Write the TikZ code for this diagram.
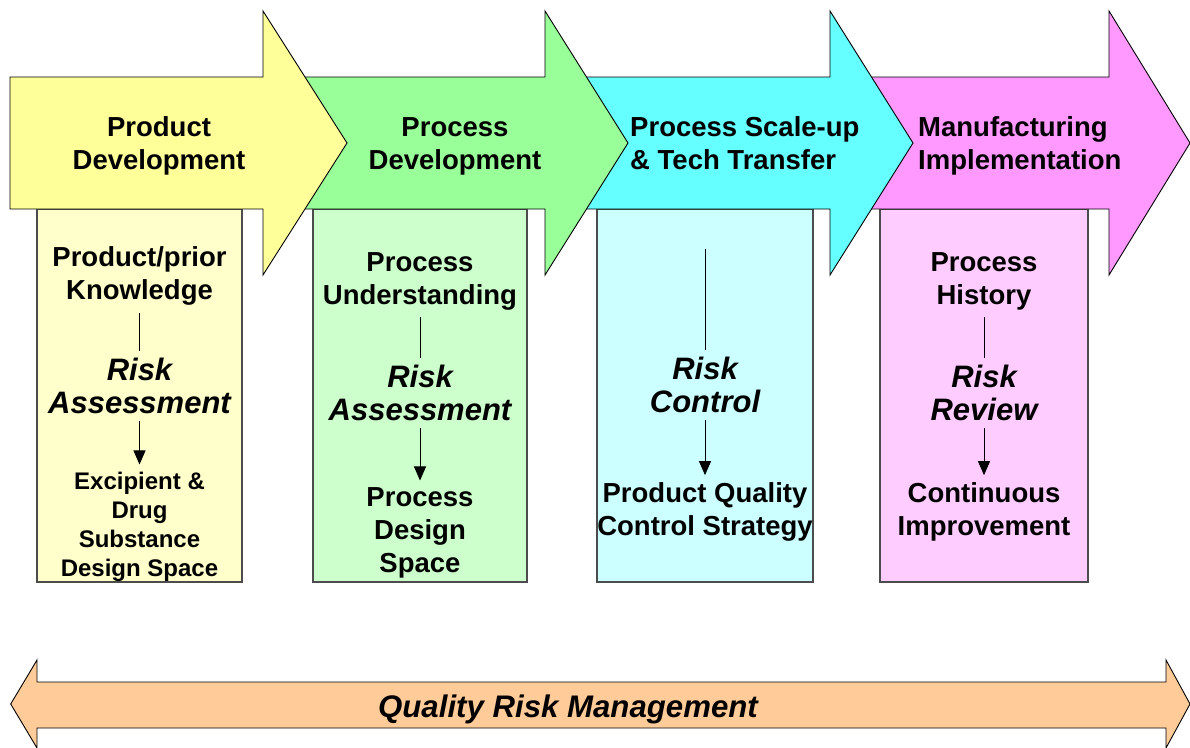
\documentclass[tikz,border=0pt]{standalone}
\usepackage{fontspec}
\setmainfont{Liberation Sans}
\usetikzlibrary{arrows.meta}
\definecolor{cProdA}{RGB}{255,255,153}
\definecolor{cProdB}{RGB}{255,255,204}
\definecolor{cProcA}{RGB}{153,255,153}
\definecolor{cProcB}{RGB}{204,255,204}
\definecolor{cScaleA}{RGB}{102,255,255}
\definecolor{cScaleB}{RGB}{204,255,255}
\definecolor{cMfgA}{RGB}{255,153,255}
\definecolor{cMfgB}{RGB}{255,204,255}
\definecolor{cQRM}{RGB}{255,204,153}

\begin{document}
\begin{tikzpicture}[x=1pt,y=-1pt,
  phase/.style={draw=black,line width=0.9pt,line join=miter},
  stage/.style={draw=black!70,line width=1.2pt},
  head/.style={font=\fontsize{27.5}{33}\selectfont\bfseries,align=center,inner sep=0pt},
  txt/.style={font=\fontsize{27.5}{33}\selectfont\bfseries,align=center,inner sep=7pt},
  small/.style={txt,font=\fontsize{24}{29}\selectfont\bfseries},
  risk/.style={font=\fontsize{31}{33}\selectfont\bfseries\itshape,align=center,inner sep=7pt},
  link/.style={line width=0.9pt},
  flow/.style={link,-{Triangle[length=14pt,width=12pt]}}]
\fill[white] (0,0) rectangle (1190,747);
\useasboundingbox (0,0) rectangle (1190,747);
% boxes under the phases
\draw[stage,fill=cProdB] (37,209) rectangle (242,582);
\draw[stage,fill=cProcB] (313,209) rectangle (527,582);
\draw[stage,fill=cScaleB] (597,209) rectangle (813,582);
\draw[stage,fill=cMfgB] (880,209) rectangle (1088,582);
% phase arrows, last one first so each head lies on the next shaft
\draw[phase,fill=cMfgA] (835,77) -- (1109,77) -- (1109,11) -- (1190,143) -- (1109,275) -- (1109,209) -- (835,209) -- cycle;
\draw[phase,fill=cScaleA] (550,77) -- (830,77) -- (830,11) -- (913,143) -- (830,275) -- (830,209) -- (550,209) -- cycle;
\draw[phase,fill=cProcA] (270,77) -- (545,77) -- (545,11) -- (628,143) -- (545,275) -- (545,209) -- (270,209) -- cycle;
\draw[phase,fill=cProdA] (10,77) -- (263,77) -- (263,11) -- (347,143) -- (263,275) -- (263,209) -- (10,209) -- cycle;
\node[head] (h1) at (159,146.3) {Product\\Development};
\node[head] (h2) at (455,146.3) {Process\\Development};
\node[head,anchor=west,align=left] (h3) at (630,143.4) {Process Scale-up\\\& Tech Transfer};
\node[head,anchor=west,align=left] (h4) at (918,146.3) {Manufacturing\\Implementation};
% product development
\node[txt] (k1) at (139.5,276.4) {Product/prior\\Knowledge};
\node[risk] (r1) at (139.5,386.4) {Risk\\Assessment};
\node[small] (o1) at (139.5,526.4) {Excipient \&\\Drug\\Substance\\Design Space};
\draw[link] (k1) -- (r1);
\draw[flow] (r1) -- (o1);
% process development
\node[txt] (k2) at (420,281) {Process\\Understanding};
\node[risk] (r2) at (420,393) {Risk\\Assessment};
\node[txt] (o2) at (420,533) {Process\\Design\\Space};
\draw[link] (k2) -- (r2);
\draw[flow] (r2) -- (o2);
% scale-up and transfer
\coordinate (k3) at (705,249);
\node[risk] (r3) at (705,385) {Risk\\Control};
\node[txt] (o3) at (705,511.7) {Product Quality\\Control Strategy};
\draw[link] (k3) -- (r3);
\draw[flow] (r3) -- (o3);
% manufacturing
\node[txt] (k4) at (984,281) {Process\\History};
\node[risk] (r4) at (984,393) {Risk\\Review};
\node[txt] (o4) at (984,511.7) {Continuous\\Improvement};
\draw[link] (k4) -- (r4);
\draw[flow] (r4) -- (o4);
% quality risk management band
\draw[phase,fill=cQRM] (10.7,704) -- (37,660) -- (37,682) -- (1166,682) -- (1166,660) -- (1190,704) -- (1166,748) -- (1166,728) -- (37,728) -- (37,748) -- cycle;
\node[font=\fontsize{31.2}{37}\selectfont\bfseries\itshape,anchor=base] (qrm) at (568,717) {Quality Risk Management};
\end{tikzpicture}
\end{document}
